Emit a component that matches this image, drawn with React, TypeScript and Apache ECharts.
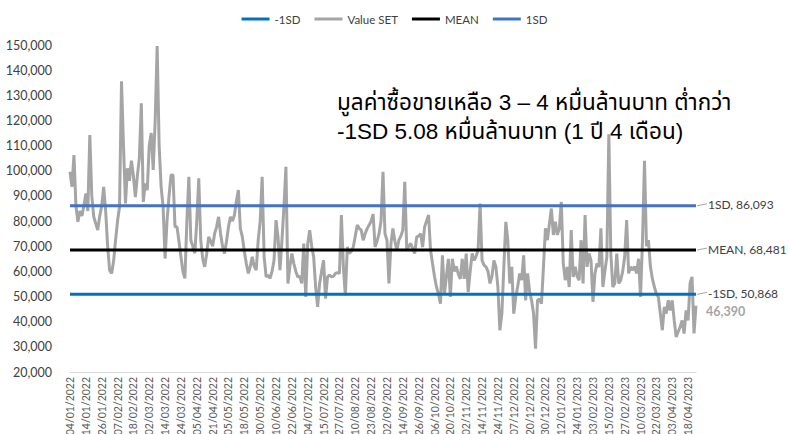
import React, { useEffect, useRef } from "react";
import * as echarts from "echarts";

const tickLabels = [
  "04/01/2022", "14/01/2022", "26/01/2022", "07/02/2022", "18/02/2022", "02/03/2022", "14/03/2022", "24/03/2022",
  "05/04/2022", "21/04/2022", "05/05/2022", "18/05/2022", "30/05/2022", "10/06/2022", "22/06/2022", "04/07/2022",
  "15/07/2022", "27/07/2022", "10/08/2022", "23/08/2022", "02/09/2022", "14/09/2022", "26/09/2022", "06/10/2022",
  "20/10/2022", "02/11/2022", "14/11/2022", "24/11/2022", "07/12/2022", "20/12/2022", "30/12/2022", "12/01/2023",
  "24/01/2023", "03/02/2023", "15/02/2023", "27/02/2023", "10/03/2023", "22/03/2023", "03/04/2023", "18/04/2023",
];

const valueSET = [
  99600, 93600, 106200, 86000, 79700, 84000, 82000, 86000,
  91000, 84000, 114200, 90000, 81700, 79000, 76400, 82000,
  86000, 93600, 84000, 70000, 60500, 59200, 64000, 72400,
  80000, 85700, 135600, 110000, 87000, 101000, 96000, 104000,
  98000, 89500, 98000, 105000, 126800, 87600, 95000, 92300,
  110000, 115000, 100300, 120000, 149600, 110000, 93600, 85700,
  65100, 80400, 90000, 98300, 98300, 77700, 77700, 72000,
  65800, 60000, 57200, 80000, 97600, 72400, 70000, 67200,
  80000, 97000, 72400, 65000, 61800, 67000, 73700, 72000,
  70000, 75000, 77700, 81700, 75000, 70000, 67100, 72000,
  77700, 81700, 80000, 82400, 88000, 92300, 77000, 73700,
  68000, 63100, 59200, 62000, 65800, 62000, 60500, 72400,
  80000, 97600, 65800, 57800, 58500, 57200, 60000, 64400,
  80400, 73700, 60500, 72400, 85700, 101600, 55200, 62000,
  67100, 63100, 60000, 57800, 58000, 55200, 71100, 49800,
  71100, 76400, 70000, 65800, 53800, 45900, 55200, 60000,
  64400, 49200, 57800, 58500, 57800, 58000, 59200, 59500,
  59200, 82400, 61800, 50500, 69700, 67100, 68000, 69700,
  74000, 78400, 77100, 76400, 72400, 75000, 77000, 78400,
  80000, 82800, 69700, 72000, 75000, 80000, 99600, 75000,
  72400, 55200, 71100, 77100, 72000, 68400, 72400, 74000,
  76400, 95600, 68400, 70000, 71100, 69000, 67100, 73700,
  74000, 75000, 69700, 77700, 80000, 82400, 68400, 63100,
  58000, 53800, 51000, 47200, 66400, 51000, 58000, 65000,
  49800, 65000, 60000, 62000, 59000, 57000, 65000, 57000,
  67100, 51800, 60000, 67100, 64400, 66000, 68400, 87000,
  64400, 62500, 61800, 60000, 55200, 58000, 64400, 61800,
  53800, 36600, 43200, 61800, 79700, 72400, 55200, 61800,
  43200, 49800, 54000, 59200, 56500, 66400, 48500, 59200,
  52000, 48500, 43200, 29300, 48500, 49000, 47200, 61800,
  77100, 72400, 79000, 85000, 74500, 79700, 74500, 77000,
  87600, 63100, 56500, 61800, 53800, 76400, 57800, 61800,
  58000, 56500, 72400, 55200, 82400, 61800, 67100, 64400,
  47900, 59200, 63100, 61800, 77100, 53800, 60000, 65800,
  114500, 67100, 53800, 55200, 67100, 55200, 56500, 60000,
  65800, 80400, 59200, 61800, 60500, 62000, 59200, 65000,
  49800, 72400, 104000, 70000, 72400, 61800, 57000, 53800,
  51000, 49800, 43200, 36600, 45900, 43200, 48500, 44500,
  48500, 40500, 33900, 36000, 37900, 40500, 35300, 44500,
  40500, 55200, 57800, 35300, 46390,
];

const meanValue = 68481;
const sdPlus = 86093;
const sdMinus = 50868;

const annotationLines = [
  "มูลค่าซื้อขายเหลือ 3 – 4 หมื่นล้านบาท ต่ำกว่า",
  "-1SD 5.08 หมื่นล้านบาท (1 ปี 4 เดือน)",
];

const fmt = (n: number) => n.toLocaleString("en-US");

export default function App() {
  const ref = useRef<HTMLDivElement>(null);
  useEffect(() => {
    if (!ref.current) return;
    const chart = echarts.init(ref.current, undefined, { renderer: "svg" });
    const last = valueSET.length - 1;
    const categories = valueSET.map((_, i) => String(i));
    const font = "Lato, 'Open Sans', sans-serif";
    const constLine = (name: string, v: number, color: string, z: number) => ({
      name,
      type: "line",
      data: [[0, v], [last, v]],
      symbol: "none",
      z,
      lineStyle: { color, width: 3 },
      itemStyle: { color },
      endLabel: {
        show: true,
        formatter: `${name}, ${fmt(v)}`,
        distance: 12,
        offset: [0, -1],
        color: "#404040",
        fontSize: 12,
        fontFamily: font,
      },
    });
    const annotation = annotationLines.map((t, i) => ({
      type: "text",
      x: 337,
      y: 102 + i * 29,
      z: 10,
      style: {
        text: t,
        fontSize: 22.5,
        fill: "#000000",
        verticalAlign: "middle",
        fontFamily: "'Liberation Sans', Arial, 'Noto Sans Thai', sans-serif",
      },
    }));
    chart.setOption({
      animation: false,
      legend: {
        top: 8,
        left: "center",
        data: ["-1SD", "Value SET", "MEAN", "1SD"],
        itemWidth: 28,
        itemHeight: 3,
        itemGap: 14,
        icon: "rect",
        textStyle: { fontSize: 11.5, color: "#404040", fontFamily: font },
      },
      grid: { left: 70, right: 93, top: 45, bottom: 62, outerBoundsMode: "none", containLabel: false },
      xAxis: {
        type: "category",
        data: categories,
        boundaryGap: false,
        axisLine: { lineStyle: { color: "#D9D9D9", width: 1 } },
        axisTick: { show: false },
        axisLabel: {
          interval: 7,
          rotate: 90,
          margin: 5,
          fontSize: 10.5,
          color: "#595959",
          fontFamily: font,
          formatter: (_v: string, idx: number) => tickLabels[idx / 8] ?? "",
        },
      },
      yAxis: {
        type: "value",
        min: 20000,
        max: 150000,
        interval: 10000,
        splitLine: { show: false },
        axisLine: { show: false },
        axisLabel: {
          margin: 18,
          fontSize: 12.5,
          color: "#404040",
          fontFamily: font,
          formatter: (v: number) => fmt(v),
        },
      },
      series: [
        {
          name: "Value SET",
          type: "line",
          data: valueSET,
          symbol: "none",
          z: 1,
          lineStyle: { color: "#A5A5A5", width: 3 },
          itemStyle: { color: "#A5A5A5" },
          endLabel: {
            show: true,
            formatter: fmt(valueSET[last]),
            distance: 10,
            offset: [0, 6],
            color: "#A5A5A5",
            fontSize: 12.5,
            fontWeight: "bold",
            fontFamily: font,
          },
        },
        constLine("-1SD", sdMinus, "#0070C0", 3),
        constLine("MEAN", meanValue, "#000000", 3),
        constLine("1SD", sdPlus, "#4472C4", 3),
      ],
      graphic: annotation,
    });
    const leaders = [sdPlus, meanValue, sdMinus].map((v) => {
      const p = chart.convertToPixel({ xAxisIndex: 0, yAxisIndex: 0 }, [last, v]) as number[];
      return {
        type: "polyline",
        silent: true,
        shape: { points: [[p[0] + 1, p[1]], [p[0] + 6, p[1] - 1], [p[0] + 11, p[1] - 2]] },
        style: { stroke: "#A6A6A6", lineWidth: 1, fill: "none" },
      };
    });
    chart.setOption({ graphic: [...annotation, ...leaders] }, { replaceMerge: ["graphic"] });
    return () => chart.dispose();
  }, []);
  return <div ref={ref} style={{ width: 789, height: 434, position: "absolute", left: 0, top: 0 }} />;
}
